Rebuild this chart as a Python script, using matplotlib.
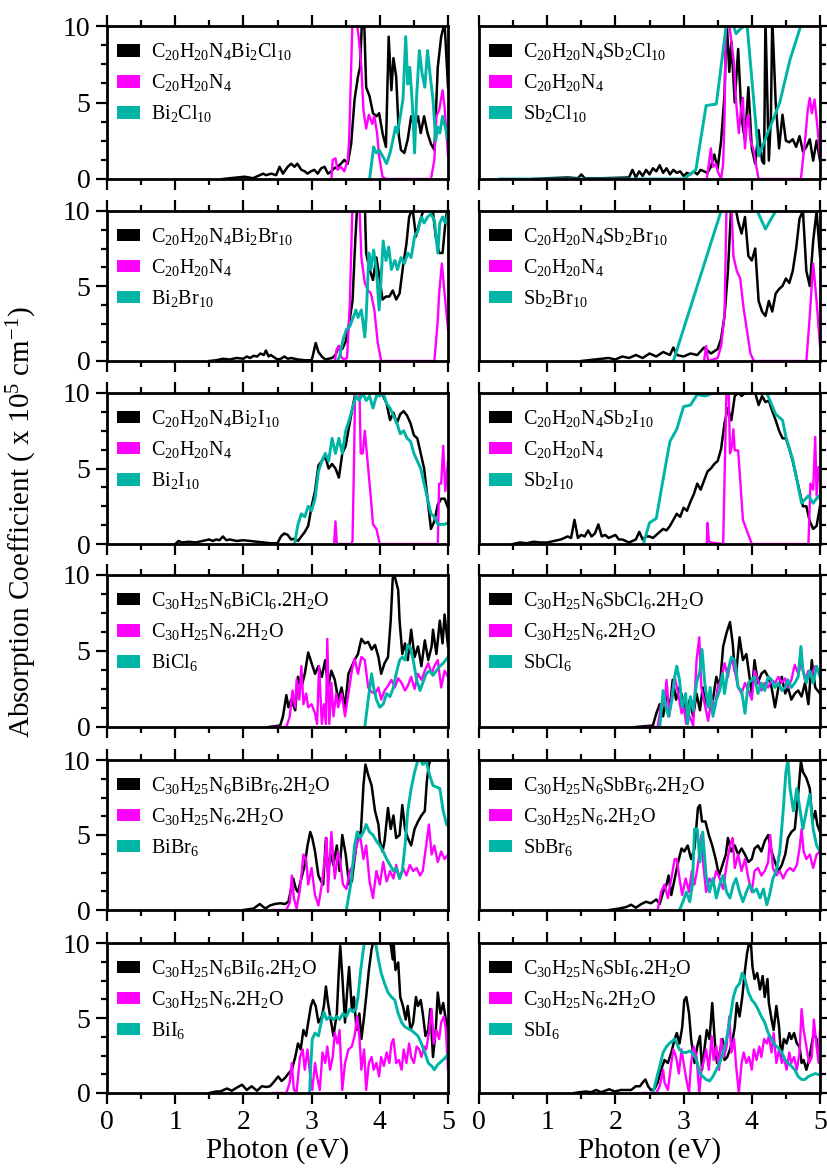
import numpy as np
import matplotlib
matplotlib.use('Agg')
import matplotlib.pyplot as plt
from matplotlib.patches import Patch
from matplotlib.ticker import MultipleLocator

plt.rcParams['font.family'] = ['Liberation Serif', 'DejaVu Serif']
plt.rcParams['mathtext.fontset'] = 'custom'
plt.rcParams['mathtext.rm'] = 'Liberation Serif'
plt.rcParams['mathtext.it'] = 'Liberation Serif:italic'

####################################################################################
#	(energie eV, absorption x 1e5 cm-1)

bicl_hyb = [(1.7,0),(1.8,0.05),(2.02,0.15),(2.14,0.05),(2.29,0.35),(2.33,0.25),(2.41,0.35),(2.48,0.25),(2.53,0.8),(2.58,0.35),
	(2.65,0.8),(2.7,1.0),(2.75,0.8),(2.79,1.0),(2.85,0.6),(2.9,0.5),(2.94,0.35),(2.99,0.5),(3.04,0.6),(3.09,0.35),(3.14,0.7),
	(3.19,0.8),(3.24,0.35),(3.29,0.5),(3.33,0.7),(3.38,0.8),(3.43,1.0),(3.48,1.25),(3.53,1.0),(3.58,2.3),(3.63,5.2),(3.68,6.7),
	(3.71,7.3),(3.74,10.5),(3.77,10.5),(3.8,6.0),(3.85,5.4),(3.9,4.3),(3.95,4.1),(3.99,4.3),(4.04,3.0),(4.09,2.1),(4.13,9.3),
	(4.17,5.8),(4.2,7.9),(4.24,6.7),(4.28,2.8),(4.31,1.9),(4.36,1.7),(4.41,2.6),(4.46,4.1),(4.51,3.4),(4.56,4.1),(4.6,3.0),
	(4.65,4.1),(4.7,3.0),(4.75,2.3),(4.8,1.9),(4.85,7.3),(4.9,9.3),(4.95,10.2),(5.0,6.0)]
c20_bicl = [(3.29,0),(3.31,1.25),(3.35,1.35),(3.38,0.6),(3.43,0.8),(3.48,0.5),(3.53,1.25),(3.55,2.5),(3.58,7.3),(3.6,10.5),
	(3.65,10.5),(3.69,9.3),(3.73,7.3),(3.76,4.5),(3.8,3.3),(3.84,4.2),(3.89,3.6),(3.92,4.1),(3.96,3.0),(3.99,1.5),(4.04,0.15),
	(4.09,0),(4.75,0),(4.8,1.25),(4.83,4.1),(4.87,4.5),(4.92,5.8),(4.95,4.7),(5.0,1.5)]
bi2cl10 = [(3.85,0),(3.91,2.1),(3.95,1.7),(3.99,1.9),(4.04,1.5),(4.1,1.0),(4.15,1.7),(4.19,2.5),(4.23,3.4),(4.26,3.0),(4.3,4.1),
	(4.34,5.2),(4.38,9.3),(4.41,6.2),(4.44,7.3),(4.48,4.7),(4.51,1.7),(4.54,5.4),(4.58,8.4),(4.62,6.9),(4.66,6.0),(4.7,8.4),
	(4.74,6.7),(4.78,5.2),(4.82,2.5),(4.85,3.4),(4.88,3.0),(4.92,4.1),(4.96,3.4),(5.0,2.5)]

sbcl_hyb = [(0.8,0),(1.0,0.05),(1.3,0.1),(1.45,0.05),(1.5,0.3),(1.55,0.05),(1.8,0.05),(2.2,0.1),(2.25,0.6),(2.3,0.1),(2.35,0.5),
	(2.4,0.2),(2.45,0.6),(2.5,0.3),(2.55,0.7),(2.6,0.5),(2.65,0.9),(2.7,0.4),(2.75,0.7),(2.8,0.3),(2.85,0.6),(2.9,0.4),(2.95,0.5),
	(3.0,0.2),(3.05,0.4),(3.1,0.3),(3.15,0.5),(3.2,0.3),(3.25,0.6),(3.3,0.5),(3.35,0.4),(3.4,0.8),(3.45,1.6),(3.5,0.7),(3.55,2.5),
	(3.6,5.5),(3.63,10.5),(3.67,7.0),(3.7,9.0),(3.75,5.0),(3.8,8.5),(3.85,4.0),(3.9,2.5),(3.95,6.0),(4.0,2.0),(4.05,1.0),
	(4.1,3.2),(4.15,1.2),(4.18,1.0),(4.2,10.5),(4.25,1.2),(4.28,4.0),(4.3,10.5),(4.35,5.0),(4.4,2.0),(4.45,4.2),(4.5,2.5),
	(4.55,2.4),(4.6,2.6),(4.65,2.1),(4.7,2.8),(4.75,1.8),(4.8,2.1),(4.85,2.6),(4.9,1.2),(4.95,2.5),(5.0,1.2)]
c20_sbcl = [(3.34,0),(3.37,1.0),(3.4,2.0),(3.43,0.8),(3.47,1.0),(3.5,0.5),(3.55,0),(3.58,1.0),(3.6,4.0),(3.62,10.5),(3.66,10.5),
	(3.7,9.0),(3.74,7.5),(3.77,5.0),(3.81,3.0),(3.84,4.5),(3.87,5.3),(3.9,2.0),(3.93,3.8),(3.95,4.2),(3.98,2.5),(4.02,2.0),
	(4.06,1.0),(4.1,0),(4.72,0),(4.78,2.5),(4.82,4.5),(4.85,5.3),(4.88,4.3),(4.92,5.2),(4.96,3.5),(5.0,1.5)]
sb2cl10 = [(0.3,0),(3.0,0),(3.18,0.6),(3.33,4.8),(3.48,4.9),(3.63,10.2),(3.7,10.4),(3.77,9.5),(3.83,9.8),(3.93,10.1),(4.1,1.5),
	(4.41,5.0),(4.56,7.8),(4.71,9.9),(4.85,11.0),(5.0,12.0)]

bibr_hyb = [(1.5,0),(1.6,0.05),(1.7,0.15),(1.8,0.1),(1.9,0.2),(2.0,0.15),(2.05,0.3),(2.1,0.2),(2.15,0.35),(2.2,0.3),(2.25,0.5),
	(2.3,0.4),(2.33,0.7),(2.37,0.3),(2.4,0.4),(2.5,0.1),(2.55,0.15),(2.6,0.3),(2.65,0.15),(2.7,0.2),(2.8,0.1),(2.9,0.05),(3.0,0.05),
	(3.02,0.4),(3.06,1.2),(3.1,0.6),(3.15,0.3),(3.2,0.1),(3.3,0.2),(3.35,0.4),(3.4,1.0),(3.45,0.8),(3.5,1.3),(3.55,2.5),(3.6,4.0),
	(3.64,8.0),(3.67,10.5),(3.72,10.5),(3.78,10.5),(3.8,7.2),(3.85,6.1),(3.9,5.4),(3.95,6.9),(4.0,5.4),(4.04,4.1),(4.09,4.3),
	(4.14,4.3),(4.19,4.7),(4.24,4.1),(4.29,4.5),(4.34,6.3),(4.39,7.8),(4.43,9.6),(4.48,10.2),(4.53,8.3),(4.58,9.2),(4.65,10.2),
	(4.7,10.5),(4.77,10.3),(4.82,8.3),(4.87,7.2),(4.92,7.2),(4.97,9.6),(5.0,10.2)]
c20_bibr = [(3.34,0),(3.37,0.8),(3.4,1.0),(3.43,0.3),(3.47,0.1),(3.52,0.2),(3.56,3.8),(3.6,10.5),(3.7,10.5),(3.73,6.9),(3.78,5.2),
	(3.83,4.7),(3.87,4.5),(3.92,3.4),(3.97,1.2),(4.02,0),(4.8,0),(4.85,2.7),(4.87,4.5),(4.91,6.5),(4.95,4.5),(5.0,2.1)]
bi2br10 = [(3.38,0),(3.41,0.3),(3.46,1.4),(3.51,2.1),(3.56,2.3),(3.61,2.9),(3.65,3.4),(3.68,2.9),(3.73,3.4),(3.78,1.6),(3.8,2.9),
	(3.84,7.2),(3.87,6.1),(3.91,7.4),(3.95,6.1),(3.99,3.4),(4.02,5.6),(4.05,8.0),(4.09,6.7),(4.13,7.6),(4.17,6.1),(4.22,6.7),
	(4.26,6.1),(4.31,6.9),(4.36,6.5),(4.41,7.2),(4.46,6.9),(4.51,8.3),(4.56,8.7),(4.61,9.6),(4.65,9.2),(4.7,9.6),(4.75,9.8),
	(4.8,9.4),(4.85,7.2),(4.88,9.2),(4.92,9.6),(4.96,9.2),(5.0,9.8)]

sbbr_hyb = [(1.5,0),(1.7,0.1),(1.9,0.2),(2.0,0.1),(2.1,0.3),(2.2,0.2),(2.3,0.4),(2.4,0.2),(2.5,0.5),(2.6,0.3),(2.7,0.6),(2.8,0.4),
	(2.85,0.9),(2.9,0.4),(3.0,0.3),(3.1,0.5),(3.2,0.4),(3.3,0.9),(3.4,0.5),(3.5,0.8),(3.55,1.5),(3.6,3.0),(3.65,6.0),(3.7,10.5),
	(3.75,10.5),(3.8,9.3),(3.85,8.5),(3.9,9.6),(3.95,7.0),(4.0,6.7),(4.05,7.5),(4.1,4.0),(4.15,3.3),(4.2,3.0),(4.25,4.0),(4.3,3.3),
	(4.35,4.5),(4.4,4.8),(4.45,5.0),(4.5,5.5),(4.55,5.2),(4.6,6.0),(4.65,7.5),(4.7,9.5),(4.75,10.0),(4.8,6.0),(4.85,5.0),
	(4.9,8.0),(4.95,10.0),(5.0,7.0)]
c20_sbbr = [(3.3,0),(3.33,1.0),(3.36,0),(3.5,0.2),(3.55,1.0),(3.6,3.0),(3.63,10.5),(3.7,10.5),(3.73,7.0),(3.78,6.0),(3.83,5.5),
	(3.88,3.5),(3.93,2.0),(3.98,0.5),(4.03,0),(4.8,0),(4.85,3.0),(4.9,6.5),(4.95,4.0),(5.0,1.0)]
sb2br10 = [(2.85,0),(3.55,10.0),(3.6,10.6),(4.0,11.0),(4.1,9.8),(4.2,8.8),(4.35,10.0),(4.5,11.0)]

bii_hyb = [(1.0,0),(1.05,0.2),(1.1,0.1),(1.2,0.15),(1.3,0.1),(1.4,0.2),(1.5,0.3),(1.55,0.2),(1.6,0.3),(1.65,0.25),(1.7,0.5),
	(1.75,0.25),(1.8,0.3),(1.9,0.2),(2.0,0.25),(2.1,0.2),(2.2,0.15),(2.3,0.1),(2.4,0.05),(2.5,0.05),(2.55,0.5),(2.6,0.7),
	(2.65,0.6),(2.7,0.3),(2.75,0.35),(2.8,0.2),(2.85,0.5),(2.9,0.8),(2.95,1.2),(3.0,2.5),(3.05,3.5),(3.1,5.2),(3.15,5.5),
	(3.2,5.8),(3.25,5.0),(3.3,5.3),(3.35,5.0),(3.4,4.4),(3.45,6.0),(3.5,6.5),(3.55,7.8),(3.6,9.0),(3.65,10.2),(3.7,10.2),
	(3.8,10.3),(3.9,10.2),(4.0,10.2),(4.05,9.8),(4.1,9.3),(4.15,8.2),(4.2,8.7),(4.25,8.0),(4.3,8.6),(4.35,8.8),(4.4,8.5),
	(4.45,8.0),(4.5,7.2),(4.55,7.0),(4.6,6.0),(4.65,5.0),(4.7,3.0),(4.75,1.0),(4.8,1.5),(4.85,2.6),(4.9,3.0),(4.95,3.0),(5.0,2.4)]
c20_bii = [(3.33,0),(3.35,1.5),(3.37,0),(3.58,0),(3.6,0.2),(3.62,5.0),(3.64,10.5),(3.7,10.5),(3.72,6.0),(3.75,6.0),(3.78,7.5),
	(3.82,5.5),(3.87,3.0),(3.9,1.3),(3.95,1.0),(4.0,0),(4.85,0),(4.87,4.0),(4.9,4.0),(4.93,6.5),(4.96,3.5),(5.0,5.5)]
bi2i10 = [(2.75,0),(2.8,1.3),(2.85,2.0),(2.9,1.8),(2.95,2.5),(3.0,2.2),(3.05,3.0),(3.1,4.8),(3.15,5.5),(3.2,6.0),(3.25,5.5),
	(3.3,7.0),(3.35,6.0),(3.4,7.0),(3.45,6.0),(3.5,7.5),(3.55,8.2),(3.6,9.0),(3.65,9.8),(3.7,9.5),(3.75,10.0),(3.8,9.5),
	(3.85,9.8),(3.9,9.0),(3.95,9.8),(4.0,9.8),(4.05,10.0),(4.1,9.3),(4.15,9.0),(4.2,8.5),(4.25,8.0),(4.3,7.3),(4.35,7.5),
	(4.4,7.0),(4.45,6.8),(4.5,6.0),(4.55,5.5),(4.6,5.0),(4.65,4.0),(4.7,3.0),(4.75,2.0),(4.8,1.8),(4.85,1.3),(4.9,1.3),
	(4.95,1.3),(5.0,1.4)]

sbi_hyb = [(0.5,0),(0.6,0.1),(0.7,0.05),(0.8,0.15),(0.9,0.1),(1.0,0.1),(1.1,0.2),(1.2,0.3),(1.3,0.5),(1.35,0.4),(1.4,1.6),
	(1.45,0.4),(1.5,0.6),(1.55,0.5),(1.6,0.9),(1.65,0.5),(1.7,0.7),(1.75,1.3),(1.8,0.5),(1.85,0.6),(1.9,0.4),(1.95,0.5),
	(2.0,0.6),(2.05,0.3),(2.1,0.3),(2.15,0.2),(2.2,0.1),(2.3,0.3),(2.35,0.8),(2.4,0.3),(2.45,0.5),(2.5,0.5),(2.55,0.4),
	(2.6,0.6),(2.65,0.8),(2.7,1.0),(2.75,0.9),(2.8,1.2),(2.85,1.6),(2.9,2.0),(2.95,1.8),(3.0,2.4),(3.05,2.2),(3.1,2.8),
	(3.15,3.3),(3.2,4.0),(3.25,3.6),(3.3,4.2),(3.35,4.8),(3.4,5.0),(3.45,5.3),(3.5,5.5),(3.55,6.3),(3.6,8.0),(3.65,9.0),
	(3.7,8.2),(3.75,9.8),(3.8,10.0),(3.85,9.8),(3.9,10.0),(3.95,10.0),(4.0,10.2),(4.05,10.0),(4.1,9.2),(4.15,9.8),(4.2,9.4),
	(4.25,9.5),(4.3,8.8),(4.35,8.2),(4.4,7.5),(4.45,7.0),(4.5,7.0),(4.55,6.3),(4.6,5.5),(4.65,4.5),(4.7,3.5),(4.75,2.5),
	(4.8,2.5),(4.85,1.5),(4.9,1.0),(4.95,1.2),(5.0,2.5)]
c20_sbi = [(3.34,0),(3.35,1.4),(3.37,0.2),(3.4,0.1),(3.58,0),(3.63,10.5),(3.66,10.5),(3.68,6.0),(3.71,6.5),(3.73,7.6),(3.75,6.2),
	(3.8,6.2),(3.87,1.6),(4.0,0),(4.83,0),(4.86,4.0),(4.9,3.6),(4.93,7.1),(4.95,3.2),(4.98,5.1),(5.0,4.3)]
sb2i10 = [(2.41,0),(2.5,1.4),(2.6,1.7),(2.7,4.3),(2.8,6.8),(2.9,7.6),(3.0,9.1),(3.1,9.2),(3.2,9.9),(3.31,9.8),(3.44,10.0),
	(3.6,10.5),(4.1,10.5),(4.22,10.0),(4.35,8.6),(4.45,8.2),(4.5,7.1),(4.6,5.6),(4.73,2.7),(4.83,3.2),(4.9,2.7),(4.98,3.2),(5.0,3.0)]

bicl6_hyb = [(2.37,0),(2.54,0.1),(2.58,0.7),(2.63,2.1),(2.66,1.3),(2.7,1.8),(2.76,1.1),(2.8,3.3),(2.85,2.6),(2.9,3.5),(2.95,4.9),
	(3.0,4.2),(3.05,3.5),(3.1,4.0),(3.15,3.3),(3.2,4.4),(3.24,2.6),(3.29,3.7),(3.34,3.1),(3.39,1.8),(3.44,2.6),(3.49,1.3),
	(3.54,3.5),(3.59,4.0),(3.63,4.4),(3.68,4.8),(3.73,5.8),(3.78,5.5),(3.83,5.6),(3.88,5.1),(3.93,5.4),(3.98,4.6),(4.02,3.5),
	(4.07,4.2),(4.12,4.6),(4.16,7.0),(4.19,9.8),(4.22,9.9),(4.27,9.0),(4.29,7.0),(4.33,4.8),(4.37,5.5),(4.41,4.4),(4.46,6.4),
	(4.51,4.6),(4.56,5.3),(4.61,4.0),(4.66,5.7),(4.71,4.4),(4.76,5.3),(4.78,6.4),(4.83,4.8),(4.88,7.0),(4.92,5.5),(4.95,7.4),(5.0,5.3)]
c30_bicl6 = [(2.44,0),(2.63,0),(2.68,0.7),(2.72,2.4),(2.76,1.3),(2.78,3.1),(2.82,1.8),(2.85,4.0),(2.88,1.5),(2.92,2.2),(2.95,1.3),
	(3.0,1.5),(3.05,0.9),(3.08,0.2),(3.11,4.0),(3.15,0.2),(3.18,1.5),(3.21,0.2),(3.23,5.8),(3.26,0.2),(3.29,2.9),(3.32,0.7),
	(3.36,2.2),(3.39,1.3),(3.44,2.2),(3.49,0.7),(3.54,2.2),(3.59,3.7),(3.63,4.5),(3.68,3.5),(3.73,4.6),(3.78,4.4),(3.83,2.6),
	(3.88,2.3),(3.93,2.2),(3.98,2.6),(4.02,1.8),(4.07,2.4),(4.12,2.7),(4.17,3.1),(4.22,2.6),(4.27,3.2),(4.32,2.9),(4.37,2.4),
	(4.41,2.7),(4.46,3.3),(4.51,2.5),(4.56,3.5),(4.61,3.1),(4.66,3.7),(4.71,4.2),(4.76,3.5),(4.8,4.0),(4.85,4.4),(4.9,2.6),
	(4.95,3.7),(5.0,3.3)]
bicl6 = [(3.78,0),(3.83,1.8),(3.88,3.5),(3.91,2.6),(3.95,1.8),(4.0,1.3),(4.05,1.5),(4.1,2.2),(4.15,2.0),(4.2,2.6),(4.24,3.5),
	(4.29,4.4),(4.33,4.6),(4.37,4.4),(4.41,5.4),(4.45,5.2),(4.49,4.4),(4.54,3.1),(4.59,2.4),(4.63,2.9),(4.68,3.5),(4.73,3.7),
	(4.78,3.4),(4.83,3.7),(4.88,4.0),(4.93,4.2),(5.0,4.6)]

sbcl6_hyb = [(2.3,0),(2.55,0.1),(2.6,0.9),(2.65,1.5),(2.7,0.7),(2.75,2.2),(2.8,1.3),(2.84,3.1),(2.89,1.8),(2.94,2.6),(2.99,1.8),
	(3.04,0.9),(3.09,1.8),(3.14,0.7),(3.19,2.2),(3.24,1.1),(3.28,2.6),(3.33,1.5),(3.38,2.2),(3.43,1.8),(3.48,3.3),(3.53,2.6),
	(3.58,5.3),(3.63,6.2),(3.68,6.9),(3.72,5.5),(3.75,3.7),(3.77,3.5),(3.82,5.9),(3.87,4.4),(3.92,4.8),(3.96,3.5),(4.0,2.2),
	(4.04,4.4),(4.09,2.9),(4.14,3.5),(4.19,3.7),(4.24,3.3),(4.29,2.6),(4.34,1.3),(4.39,2.6),(4.44,3.3),(4.49,2.2),(4.53,2.6),
	(4.58,1.8),(4.63,2.2),(4.68,2.4),(4.73,2.0),(4.78,2.9),(4.83,1.5),(4.88,4.4),(4.93,2.6),(5.0,2.2)]
c30_sbcl6 = [(2.45,0),(2.62,0),(2.67,1.5),(2.72,1.5),(2.75,3.1),(2.79,0.7),(2.83,2.2),(2.87,3.3),(2.92,2.2),(2.97,0.9),(3.0,1.3),
	(3.04,0.2),(3.09,0.7),(3.14,0.1),(3.19,4.4),(3.23,5.9),(3.26,2.6),(3.31,1.5),(3.36,0.4),(3.41,1.8),(3.46,1.3),(3.5,2.6),
	(3.55,3.1),(3.6,4.2),(3.65,3.3),(3.7,4.6),(3.75,3.7),(3.8,2.6),(3.85,2.2),(3.9,2.9),(3.95,2.4),(4.0,1.8),(4.04,3.7),(4.09,3.1),
	(4.14,2.4),(4.19,2.9),(4.24,2.6),(4.29,3.1),(4.34,2.9),(4.39,3.3),(4.44,2.9),(4.49,3.2),(4.53,2.6),(4.58,3.1),(4.63,4.1),
	(4.68,3.5),(4.73,4.2),(4.78,3.1),(4.83,3.7),(4.88,3.5),(4.93,4.0),(5.0,3.5)]
sbcl6 = [(2.65,0),(2.7,2.4),(2.74,1.3),(2.78,0.7),(2.83,1.8),(2.87,3.3),(2.9,4.0),(2.94,3.1),(2.98,1.3),(3.03,2.2),(3.06,0.2),
	(3.1,2.0),(3.14,1.1),(3.19,2.9),(3.24,3.7),(3.27,5.1),(3.31,2.9),(3.36,1.3),(3.39,2.6),(3.43,0.7),(3.48,1.8),(3.53,2.4),
	(3.57,3.5),(3.6,2.2),(3.65,3.7),(3.7,4.6),(3.75,4.4),(3.8,2.6),(3.85,2.4),(3.9,0.9),(3.95,2.9),(4.0,3.1),(4.04,3.3),
	(4.09,2.2),(4.14,2.9),(4.19,2.4),(4.24,3.3),(4.29,3.1),(4.34,2.6),(4.39,2.9),(4.44,2.4),(4.49,2.6),(4.53,3.1),(4.58,2.6),
	(4.63,2.9),(4.68,3.3),(4.72,5.3),(4.75,3.7),(4.8,2.9),(4.85,3.7),(4.9,2.9),(4.95,4.0),(5.0,3.3)]

bibr6_hyb = [(2.0,0),(2.15,0.1),(2.24,0.4),(2.32,0.1),(2.39,0.3),(2.46,0.4),(2.54,0.45),(2.61,0.4),(2.66,0.55),(2.69,1.2),
	(2.73,2.1),(2.77,1.4),(2.8,1.2),(2.85,2.1),(2.9,3.0),(2.94,4.3),(2.98,5.2),(3.01,4.8),(3.05,3.9),(3.1,2.3),(3.14,1.9),
	(3.17,1.7),(3.21,4.8),(3.24,2.6),(3.28,3.7),(3.32,3.0),(3.37,4.3),(3.41,2.6),(3.45,5.0),(3.5,3.7),(3.55,1.7),(3.59,1.9),
	(3.63,3.4),(3.68,5.2),(3.72,5.0),(3.76,8.3),(3.79,9.7),(3.83,9.0),(3.88,8.3),(3.93,6.6),(3.98,5.7),(4.0,4.6),(4.04,3.9),
	(4.07,4.6),(4.12,6.8),(4.16,5.4),(4.2,6.3),(4.24,4.8),(4.29,5.0),(4.33,7.0),(4.37,5.4),(4.41,4.8),(4.46,4.3),(4.51,5.4),
	(4.56,5.9),(4.61,6.3),(4.66,6.6),(4.69,8.6),(4.72,9.7),(4.76,10.2),(4.8,11.0),(5.0,11.0)]
c30_bibr6 = [(2.44,0),(2.63,0),(2.68,0.5),(2.71,2.3),(2.74,0.8),(2.78,0.1),(2.83,1.4),(2.88,3.7),(2.92,3.4),(2.95,1.7),(3.0,2.8),
	(3.05,1.0),(3.1,0.3),(3.15,1.7),(3.2,3.7),(3.22,4.8),(3.24,1.2),(3.29,5.2),(3.34,2.1),(3.39,3.9),(3.42,3.2),(3.46,1.7),
	(3.51,1.4),(3.56,2.6),(3.61,3.0),(3.66,4.3),(3.71,5.0),(3.76,3.4),(3.8,4.3),(3.85,1.9),(3.9,0.8),(3.95,2.6),(4.0,1.7),
	(4.05,3.2),(4.1,1.9),(4.15,2.6),(4.2,2.1),(4.24,3.0),(4.29,2.1),(4.34,2.8),(4.39,2.3),(4.44,3.0),(4.49,2.6),(4.54,2.8),
	(4.59,2.3),(4.63,2.6),(4.68,4.3),(4.72,5.7),(4.76,3.7),(4.8,4.3),(4.85,3.2),(4.9,3.9),(4.95,3.4),(5.0,3.7)]
bibr6 = [(3.51,0),(3.58,1.9),(3.63,4.3),(3.67,5.2),(3.71,4.8),(3.76,5.2),(3.8,5.7),(3.85,5.2),(3.9,5.0),(3.95,4.6),(4.0,4.3),
	(4.05,3.9),(4.1,3.4),(4.15,3.0),(4.2,2.6),(4.24,2.8),(4.29,2.1),(4.33,2.6),(4.37,4.3),(4.41,6.6),(4.46,8.1),(4.51,9.2),
	(4.56,10.0),(4.59,10.1),(4.63,9.7),(4.68,9.9),(4.73,9.0),(4.78,8.3),(4.83,8.2),(4.88,8.1),(4.93,6.6),(4.98,5.7),(5.0,5.6)]

sbbr6_hyb = [(1.91,0),(2.06,0.1),(2.16,0.2),(2.23,0.35),(2.3,0.15),(2.38,0.4),(2.45,0.55),(2.52,0.45),(2.6,0.7),(2.65,0.4),
	(2.7,1.2),(2.75,1.7),(2.78,2.3),(2.82,1.0),(2.87,2.1),(2.92,3.2),(2.97,4.1),(3.01,3.9),(3.06,4.3),(3.11,3.4),(3.16,4.1),
	(3.21,6.8),(3.24,7.0),(3.27,5.9),(3.32,5.9),(3.37,5.0),(3.42,4.3),(3.47,3.4),(3.52,2.3),(3.57,3.0),(3.62,3.7),(3.65,4.8),
	(3.7,3.9),(3.75,4.3),(3.8,3.7),(3.85,4.1),(3.9,3.7),(3.95,3.2),(4.0,3.4),(4.04,4.1),(4.09,4.3),(4.14,3.9),(4.19,4.6),
	(4.24,5.0),(4.29,3.9),(4.34,3.2),(4.39,2.6),(4.44,3.0),(4.49,3.7),(4.53,4.8),(4.58,5.2),(4.63,5.4),(4.68,7.7),(4.72,9.9),
	(4.75,9.2),(4.8,8.8),(4.85,8.1),(4.89,5.9),(4.93,6.6),(4.96,5.7),(5.0,5.2)]
c30_sbbr6 = [(2.4,0),(2.62,0),(2.67,1.2),(2.72,1.7),(2.77,0.8),(2.82,2.1),(2.87,3.4),(2.9,3.4),(2.94,2.1),(2.98,1.0),(3.03,2.1),
	(3.08,1.2),(3.12,2.6),(3.16,1.7),(3.21,3.0),(3.26,5.0),(3.29,3.0),(3.33,1.2),(3.38,2.1),(3.43,1.7),(3.48,2.6),(3.53,2.1),
	(3.58,1.4),(3.63,3.0),(3.68,4.3),(3.72,4.8),(3.75,2.8),(3.8,3.7),(3.85,2.6),(3.9,3.4),(3.95,2.1),(4.0,1.2),(4.04,2.6),
	(4.09,2.8),(4.14,2.3),(4.19,2.6),(4.24,3.2),(4.27,5.0),(4.31,2.8),(4.36,2.3),(4.41,2.6),(4.46,2.1),(4.51,2.6),(4.56,2.8),
	(4.61,2.6),(4.66,3.0),(4.7,4.1),(4.73,5.4),(4.76,3.9),(4.8,3.4),(4.85,3.7),(4.9,2.8),(4.95,3.7),(5.0,3.9)]
sbbr6 = [(2.94,0),(2.99,0.55),(3.04,1.2),(3.09,0.55),(3.13,1.7),(3.16,5.4),(3.2,5.4),(3.24,3.2),(3.28,5.2),(3.33,2.3),(3.38,1.2),
	(3.43,2.1),(3.48,0.8),(3.53,1.7),(3.58,2.3),(3.63,1.2),(3.68,0.8),(3.73,1.7),(3.77,2.1),(3.82,1.2),(3.87,0.55),(3.92,1.2),
	(3.97,1.7),(4.02,1.2),(4.07,1.4),(4.12,0.8),(4.17,1.4),(4.22,0.35),(4.26,1.0),(4.31,2.1),(4.36,2.6),(4.41,3.9),(4.46,6.6),
	(4.5,9.2),(4.53,10.0),(4.56,8.1),(4.61,6.6),(4.66,8.1),(4.71,6.6),(4.75,5.4),(4.8,6.6),(4.85,7.7),(4.9,5.4),(4.95,4.3),(5.0,3.9)]

bii6_hyb = [(1.5,0),(1.6,0.1),(1.66,0.1),(1.76,0.3),(1.83,0.15),(1.9,0.35),(1.98,0.55),(2.05,0.2),(2.12,0.45),(2.2,0.15),
	(2.27,0.45),(2.34,0.4),(2.39,0.45),(2.44,0.7),(2.51,1.1),(2.56,0.8),(2.61,1.0),(2.66,1.3),(2.71,1.55),(2.76,2.4),(2.8,3.3),
	(2.84,2.9),(2.88,4.2),(2.92,3.8),(2.95,4.7),(2.99,5.8),(3.02,6.2),(3.06,5.8),(3.1,4.7),(3.15,5.1),(3.18,5.8),(3.21,7.1),
	(3.24,6.0),(3.28,4.9),(3.32,3.8),(3.37,5.3),(3.4,8.2),(3.42,9.8),(3.45,7.8),(3.49,4.7),(3.52,6.7),(3.55,8.4),(3.59,5.6),
	(3.62,6.4),(3.66,4.2),(3.7,5.3),(3.73,3.6),(3.77,5.1),(3.8,6.4),(3.84,8.2),(3.88,9.6),(3.91,10.2),(4.0,11.0),(4.1,11.0),
	(4.15,10.2),(4.19,8.9),(4.2,10.2),(4.23,8.2),(4.27,8.7),(4.3,6.4),(4.34,5.8),(4.38,4.9),(4.41,5.8),(4.45,4.2),(4.49,4.7),
	(4.53,6.4),(4.56,5.8),(4.6,6.2),(4.63,5.3),(4.67,3.8),(4.71,4.2),(4.74,5.6),(4.78,2.4),(4.82,4.2),(4.85,6.7),(4.89,5.3),
	(4.93,6.0),(4.96,5.1),(5.0,4.2)]
c30_bii6 = [(2.44,0),(2.63,0),(2.68,0.7),(2.71,2.0),(2.74,0.2),(2.78,0.1),(2.83,2.4),(2.87,2.9),(2.9,1.55),(2.94,2.9),(2.98,1.1),
	(3.01,0.2),(3.05,2.0),(3.08,1.1),(3.12,0.2),(3.16,2.7),(3.2,2.0),(3.23,3.1),(3.27,1.55),(3.31,2.4),(3.34,4.0),(3.38,3.3),
	(3.41,4.2),(3.45,0.2),(3.49,2.0),(3.54,2.9),(3.59,3.1),(3.63,3.8),(3.67,5.1),(3.7,3.8),(3.73,1.55),(3.77,2.9),(3.8,0.2),
	(3.84,2.0),(3.88,2.4),(3.91,1.55),(3.95,2.0),(3.99,1.1),(4.02,2.4),(4.06,1.8),(4.1,2.7),(4.14,2.0),(4.17,3.3),(4.2,3.6),
	(4.24,2.0),(4.28,2.2),(4.32,1.55),(4.35,2.9),(4.39,2.0),(4.43,3.3),(4.46,2.4),(4.5,2.0),(4.54,3.1),(4.58,2.9),(4.61,2.4),
	(4.65,3.1),(4.68,2.9),(4.72,4.0),(4.76,5.6),(4.79,3.3),(4.83,4.2),(4.87,3.6),(4.9,4.7),(4.94,5.1),(4.97,4.2),(5.0,1.55)]
bii6 = [(2.97,0),(2.99,2.0),(3.01,3.6),(3.05,4.0),(3.1,3.8),(3.15,4.9),(3.18,5.4),(3.22,4.9),(3.27,5.1),(3.32,4.9),(3.37,5.1),
	(3.41,4.9),(3.46,5.3),(3.51,5.1),(3.56,5.6),(3.61,5.4),(3.65,5.6),(3.68,6.4),(3.72,8.2),(3.76,9.6),(3.78,10.2),(3.93,10.2),
	(3.98,8.9),(4.02,8.0),(4.07,7.3),(4.12,6.7),(4.17,6.4),(4.22,6.2),(4.27,5.3),(4.32,4.7),(4.37,4.4),(4.41,4.3),(4.46,4.2),
	(4.51,4.0),(4.56,3.8),(4.61,3.3),(4.66,2.7),(4.71,2.0),(4.76,1.8),(4.8,1.55),(4.85,1.9),(4.9,2.1),(4.95,2.3),(5.0,2.6)]

sbi6_hyb = [(1.4,0),(1.47,0.05),(1.57,0.1),(1.64,0.05),(1.72,0.2),(1.79,0.05),(1.91,0.25),(1.99,0.1),(2.08,0.2),(2.16,0.2),
	(2.23,0.2),(2.3,0.45),(2.36,0.45),(2.4,0.7),(2.44,0.9),(2.48,0.45),(2.52,0.2),(2.57,0.25),(2.62,0.7),(2.67,1.55),(2.72,2.2),
	(2.77,2.0),(2.82,2.7),(2.87,3.6),(2.9,4.0),(2.94,3.3),(2.98,4.4),(3.01,6.2),(3.04,6.4),(3.08,5.3),(3.11,3.6),(3.16,2.0),
	(3.2,3.1),(3.24,3.8),(3.27,1.55),(3.31,3.1),(3.34,4.2),(3.38,3.6),(3.42,6.0),(3.46,3.3),(3.49,2.0),(3.53,2.7),(3.57,3.6),
	(3.6,2.2),(3.64,2.4),(3.68,2.9),(3.72,3.6),(3.75,4.4),(3.78,6.0),(3.82,5.1),(3.86,6.4),(3.9,8.2),(3.93,9.3),(3.96,10.0),
	(3.99,9.8),(4.01,8.4),(4.04,7.6),(4.08,8.0),(4.12,6.9),(4.16,7.8),(4.19,6.4),(4.23,7.6),(4.25,6.0),(4.29,4.9),(4.32,4.2),
	(4.36,5.8),(4.4,4.4),(4.43,2.4),(4.47,3.6),(4.51,3.3),(4.55,4.0),(4.58,3.6),(4.62,4.0),(4.66,3.3),(4.7,3.1),(4.73,2.0),
	(4.76,2.2),(4.8,1.55),(4.84,2.2),(4.88,3.3),(4.91,4.0),(4.95,3.6),(4.98,2.4),(5.0,2.0)]
c30_sbi6 = [(2.4,0),(2.6,0),(2.65,0.45),(2.7,1.55),(2.72,0.7),(2.77,0.2),(2.82,2.0),(2.85,2.9),(2.89,2.4),(2.93,1.3),(2.97,2.9),
	(3.0,2.0),(3.04,0.9),(3.08,0),(3.11,2.0),(3.15,3.1),(3.19,2.4),(3.23,0),(3.26,1.55),(3.29,2.0),(3.33,2.9),(3.37,1.55),
	(3.41,3.8),(3.44,2.2),(3.48,3.1),(3.52,1.55),(3.55,3.6),(3.59,2.4),(3.63,3.1),(3.67,5.1),(3.7,2.7),(3.74,3.6),(3.77,1.8),
	(3.81,0),(3.85,2.0),(3.88,2.7),(3.92,2.0),(3.96,2.4),(4.0,1.55),(4.03,2.9),(4.07,2.2),(4.11,3.1),(4.14,2.4),(4.18,3.6),
	(4.22,3.3),(4.25,3.8),(4.29,2.7),(4.32,4.0),(4.36,2.0),(4.4,2.9),(4.44,2.0),(4.47,2.4),(4.51,1.55),(4.55,2.7),(4.58,2.0),
	(4.62,2.4),(4.66,1.55),(4.7,2.7),(4.73,5.6),(4.76,4.2),(4.8,3.1),(4.84,2.0),(4.88,2.4),(4.91,4.9),(4.95,3.1),(4.98,2.0),(5.0,4.2)]
sbi6 = [(2.55,0),(2.6,0.9),(2.65,1.8),(2.7,2.7),(2.75,3.1),(2.79,3.3),(2.87,3.6),(2.9,3.3),(2.94,2.9),(2.99,2.7),(3.04,2.7),
	(3.09,2.8),(3.14,2.6),(3.19,2.2),(3.24,1.3),(3.28,1.1),(3.33,0.9),(3.38,0.8),(3.43,1.1),(3.48,1.55),(3.53,2.0),(3.58,2.7),
	(3.63,3.6),(3.68,4.9),(3.73,6.4),(3.77,7.0),(3.82,7.3),(3.86,8.0),(3.9,7.6),(3.95,6.7),(4.0,6.2),(4.04,6.0),(4.09,5.6),
	(4.14,5.1),(4.19,4.7),(4.24,4.0),(4.29,3.6),(4.34,3.2),(4.39,3.0),(4.44,2.7),(4.49,2.2),(4.53,2.0),(4.58,1.8),(4.63,1.55),
	(4.68,1.1),(4.73,0.9),(4.78,0.9),(4.83,1.1),(4.88,1.2),(4.93,1.3),(5.0,1.2)]

####################################################################################

NOIR, ROSE, VERT = '#000000', '#ff00ff', '#00b5a5'

C20 = 'C$_{20}$H$_{20}$N$_4$'
C30 = 'C$_{30}$H$_{25}$N$_6$.2H$_2$O'

panneaux = [
	[(bicl_hyb, 'C$_{20}$H$_{20}$N$_4$Bi$_2$Cl$_{10}$'), (c20_bicl, C20), (bi2cl10, 'Bi$_2$Cl$_{10}$')],
	[(sbcl_hyb, 'C$_{20}$H$_{20}$N$_4$Sb$_2$Cl$_{10}$'), (c20_sbcl, C20), (sb2cl10, 'Sb$_2$Cl$_{10}$')],
	[(bibr_hyb, 'C$_{20}$H$_{20}$N$_4$Bi$_2$Br$_{10}$'), (c20_bibr, C20), (bi2br10, 'Bi$_2$Br$_{10}$')],
	[(sbbr_hyb, 'C$_{20}$H$_{20}$N$_4$Sb$_2$Br$_{10}$'), (c20_sbbr, C20), (sb2br10, 'Sb$_2$Br$_{10}$')],
	[(bii_hyb,  'C$_{20}$H$_{20}$N$_4$Bi$_2$I$_{10}$'),  (c20_bii, C20),  (bi2i10, 'Bi$_2$I$_{10}$')],
	[(sbi_hyb,  'C$_{20}$H$_{20}$N$_4$Sb$_2$I$_{10}$'),  (c20_sbi, C20),  (sb2i10, 'Sb$_2$I$_{10}$')],
	[(bicl6_hyb, 'C$_{30}$H$_{25}$N$_6$BiCl$_6$.2H$_2$O'), (c30_bicl6, C30), (bicl6, 'BiCl$_6$')],
	[(sbcl6_hyb, 'C$_{30}$H$_{25}$N$_6$SbCl$_6$.2H$_2$O'), (c30_sbcl6, C30), (sbcl6, 'SbCl$_6$')],
	[(bibr6_hyb, 'C$_{30}$H$_{25}$N$_6$BiBr$_6$.2H$_2$O'), (c30_bibr6, C30), (bibr6, 'BiBr$_6$')],
	[(sbbr6_hyb, 'C$_{30}$H$_{25}$N$_6$SbBr$_6$.2H$_2$O'), (c30_sbbr6, C30), (sbbr6, 'SbBr$_6$')],
	[(bii6_hyb,  'C$_{30}$H$_{25}$N$_6$BiI$_6$.2H$_2$O'),  (c30_bii6, C30),  (bii6, 'BiI$_6$')],
	[(sbi6_hyb,  'C$_{30}$H$_{25}$N$_6$SbI$_6$.2H$_2$O'),  (c30_sbi6, C30),  (sbi6, 'SbI$_6$')],
]

####################################################################################

W, H = 827, 1172
fig = plt.figure(figsize=(W/100, H/100), dpi=100)

gauches = [107, 479]
lignes  = [(26, 179), (211, 361), (393, 544), (575, 727), (760, 910), (943, 1093)]
couleurs = [NOIR, ROSE, VERT]
epaisseurs = [1.8, 1.7, 2.1]

for k, courbes in enumerate(panneaux):
	r, c = k // 2, k % 2
	haut, bas = lignes[r]
	ax = fig.add_axes([gauches[c]/W, 1 - bas/H, 341/W, (bas - haut)/H])

	for i, (pts, nom) in enumerate(courbes):
		e, a = np.array(pts).T
		ax.plot(e, a, color=couleurs[i], lw=epaisseurs[i], zorder=2 + i*0.1)

	ax.set_xlim(0, 5)
	ax.set_ylim(0, 10)
	ax.xaxis.set_major_locator(MultipleLocator(1))
	ax.xaxis.set_minor_locator(MultipleLocator(0.5))
	ax.yaxis.set_major_locator(MultipleLocator(5))
	ax.yaxis.set_minor_locator(MultipleLocator(1.25))
	ax.tick_params(which='both', direction='out', top=True, bottom=True,
		left=(c == 0), right=(c == 1), labelleft=(c == 0), labelright=False,
		labelbottom=(r == 5), width=1.6, labelsize=20, pad=4)
	ax.tick_params(which='major', length=8)
	ax.tick_params(which='minor', length=4.5)
	for s in ax.spines.values():
		s.set_linewidth(2)

	ax.legend(handles=[Patch(facecolor=couleurs[i]) for i in range(3)],
		labels=[n for _, n in courbes], loc='upper left', bbox_to_anchor=(0.03, 0.9),
		frameon=False, fontsize=14.5, handlelength=1.15, handleheight=0.6,
		handletextpad=0.55, labelspacing=0.5, borderaxespad=0, borderpad=0)

	if r == 5:
		ax.set_xlabel('Photon (eV)', fontsize=21, labelpad=2)

fig.text(22/W, 1 - 522/H, 'Absorption Coefficient ( x 10$^5$ cm$^{-1}$)', rotation=90,
	ha='center', va='center', fontsize=21)

plt.savefig('out.png', dpi=100)
